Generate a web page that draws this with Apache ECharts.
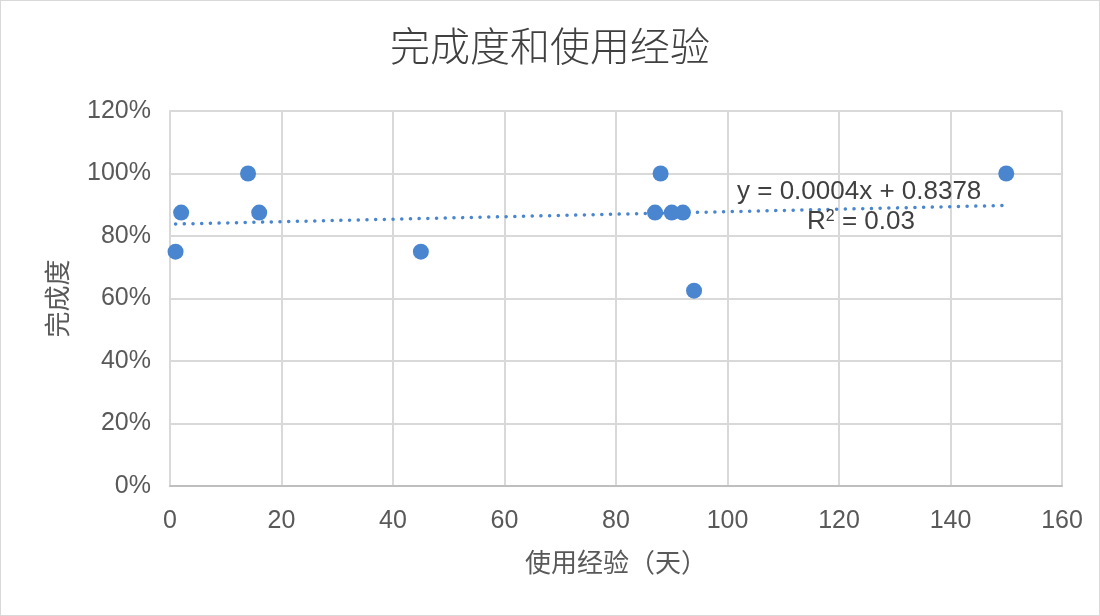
<!DOCTYPE html>
<html><head><meta charset="utf-8">
<script src="https://cdn.jsdelivr.net/npm/echarts@6/dist/echarts.min.js"></script>
<style>html,body{margin:0;padding:0;background:#fff}#c{width:1100px;height:616px;box-sizing:border-box;border:1px solid #d9d9d9}</style>
</head><body><div id="c"></div>
<script>
const titleText = '完成度和使用经验';
const xName = '使用经验（天）';
const yName = '完成度';
const experienceDays = [1, 2, 14, 16, 45, 87, 88, 90, 92, 94, 150];
const completion = [0.75, 0.875, 1.0, 0.875, 0.75, 0.875, 1.0, 0.875, 0.875, 0.625, 1.0];
const trendSlope = 0.0004;
const trendIntercept = 0.8378;
const trendR2 = 0.03;
const xTicks = [0, 20, 40, 60, 80, 100, 120, 140, 160];
const yTicks = [0, 0.2, 0.4, 0.6, 0.8, 1.0, 1.2];

const pts = experienceDays.map((d, i) => [d, completion[i]]);
const xmin = Math.min(...experienceDays), xmax = Math.max(...experienceDays);
const trend = [[xmin, trendSlope * xmin + trendIntercept], [xmax, trendSlope * xmax + trendIntercept]];

const chart = echarts.init(document.getElementById('c'));
const txt = '#595959';
const font = '"Liberation Sans", Arial, sans-serif';
const cjk = '"Noto Sans CJK SC", sans-serif';
chart.setOption({
  animation: false,
  title: {text: titleText, left: 'center', top: 20,
    textStyle: {fontFamily: cjk, fontWeight: 300, fontSize: 40, color: '#404040'}},
  grid: {left: 169, right: 37, top: 110, bottom: 129},
  xAxis: {type: 'value', min: xTicks[0], max: xTicks[xTicks.length-1], interval: 20,
    name: xName, nameLocation: 'middle', nameGap: 63,
    nameTextStyle: {fontFamily: cjk, fontSize: 26, color: txt},
    axisLine: {lineStyle: {color: '#bfbfbf', width: 2}}, axisTick: {show: false},
    axisLabel: {fontFamily: font, fontSize: 25, color: txt, margin: 23},
    splitLine: {lineStyle: {color: '#d9d9d9', width: 2}}},
  yAxis: {type: 'value', min: yTicks[0], max: yTicks[yTicks.length-1], interval: 0.2,
    name: yName, nameLocation: 'middle', nameGap: 100, nameRotate: 90,
    nameTextStyle: {fontFamily: cjk, fontSize: 26, color: txt},
    axisLine: {show: true, lineStyle: {color: '#d9d9d9', width: 2}}, axisTick: {show: false},
    axisLabel: {fontFamily: font, fontSize: 25, color: txt, margin: 19,
      formatter: v => Math.round(v * 100) + '%'},
    splitLine: {lineStyle: {color: '#d9d9d9', width: 2}}},
  series: [
    {type: 'line', data: trend, showSymbol: false, symbol: 'none', z: 1,
      lineStyle: {color: '#4a86cf', width: 3.5, type: [0.1, 8.6], cap: 'round'}},
    {type: 'scatter', data: pts, symbolSize: 16, z: 3,
      itemStyle: {color: '#4a86cf', opacity: 1}}
  ],
  graphic: [
    {type: 'text', x: 736, y: 191, z: 10, style: {text: 'y = ' + trendSlope.toFixed(4) + 'x + ' + trendIntercept.toFixed(4), font: '26px ' + font, fill: '#404040', verticalAlign: 'middle'}},
    {type: 'text', x: 806, y: 221, z: 10, style: {verticalAlign: 'middle', fill: '#404040',
      rich: {a: {fontSize: 26, fontFamily: font, fill:'#404040'}, s: {fontSize: 16, fontFamily: font, fill:'#404040', verticalAlign: 'top', padding: [0,0,10,0]}},
      text: '{a|R}{s|2}{a| = ' + trendR2.toFixed(2) + '}'}}
  ]
});
</script></body></html>
